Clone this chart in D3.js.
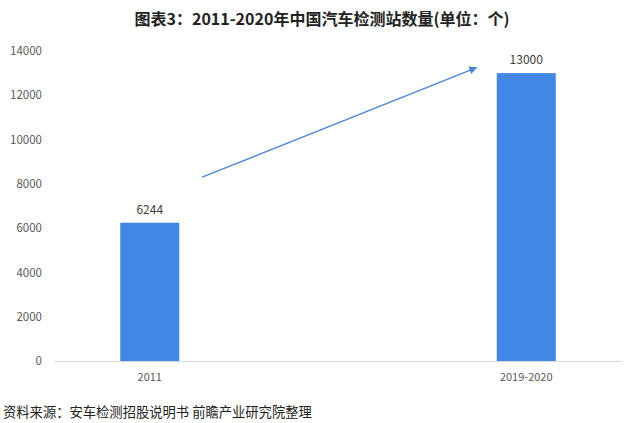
<!DOCTYPE html>
<html><head><meta charset="utf-8">
<script src="https://cdn.jsdelivr.net/npm/d3@7/dist/d3.min.js"></script>
<style>body{margin:0;background:#fff;}svg{display:block;}</style>
</head><body>
<svg id="c" width="642" height="423"></svg>
<script>
const categories = ["2011", "2019-2020"];
const values = [6244, 13000];
const yTicks = [0, 2000, 4000, 6000, 8000, 10000, 12000, 14000];
const titleText = "图表3：2011-2020年中国汽车检测站数量(单位：个)";
const sourceText = "资料来源：安车检测招股说明书 前瞻产业研究院整理";
// trend arrow in data space: [category fraction position, value]
const arrowFrom = [0.139, 8300];
const arrowTo = [0.868, 13250];

(function () {
const svg = d3.select("#c");
const W = 642, H = 423;
const mLeft = 54, mRight = 622, mTop = 51, mBottom = 361;
const font = "'Noto Sans CJK SC','Noto Sans',sans-serif";

svg.append("rect").attr("width", W).attr("height", H).attr("fill", "#fff");

const x = d3.scaleBand().domain(categories).range([mLeft, mRight])
  .paddingInner(0.8433).paddingOuter(0.176);
const y = d3.scaleLinear().domain([0, 14000]).range([mBottom, mTop]);

// title
svg.append("text").attr("x", 322).attr("y", 25).attr("text-anchor", "middle")
  .attr("font-family", font).attr("font-weight", "bold").attr("font-size", 16)
  .attr("fill", "#222").text(titleText);

// y axis
const yAxis = svg.append("g").attr("transform", `translate(${mLeft},0)`)
  .call(d3.axisLeft(y).tickValues(yTicks).tickSize(0).tickPadding(12).tickFormat(d3.format("d")));
yAxis.select(".domain").remove();
yAxis.selectAll("text").attr("font-family", font).attr("font-size", 11.5).attr("fill", "#595959");

// x axis
const xAxis = svg.append("g").attr("transform", `translate(0,${mBottom})`)
  .call(d3.axisBottom(x).tickSize(0).tickPadding(12));
xAxis.select(".domain").attr("stroke", "#d9d9d9").attr("d", `M${mLeft},0.5H${mRight}`);
xAxis.selectAll("text").attr("font-family", font).attr("font-size", 11).attr("fill", "#595959");

// bars
svg.selectAll(".bar").data(values).enter().append("rect")
  .attr("x", (d, i) => x(categories[i]))
  .attr("y", d => y(d))
  .attr("width", x.bandwidth())
  .attr("height", d => y(0) - y(d))
  .attr("fill", "#4287e3");

svg.selectAll(".lbl").data(values).enter().append("text")
  .attr("x", (d, i) => x(categories[i]) + x.bandwidth() / 2)
  .attr("y", d => y(d) - 9)
  .attr("text-anchor", "middle")
  .attr("font-family", font).attr("font-size", 12).attr("fill", "#404040")
  .text(d => d);

// arrow
const c0 = x(categories[0]) + x.bandwidth() / 2, c1 = x(categories[1]) + x.bandwidth() / 2;
const px = f => c0 + (c1 - c0) * f;
svg.append("defs").append("marker").attr("id", "ah")
  .attr("viewBox", "0 0 10 10").attr("refX", 9).attr("refY", 5)
  .attr("markerWidth", 9).attr("markerHeight", 8).attr("markerUnits", "userSpaceOnUse")
  .attr("orient", "auto")
  .append("path").attr("d", "M0,0L10,5L0,10z").attr("fill", "#4a86d8");
const x1 = px(arrowFrom[0]), y1 = y(arrowFrom[1]), x2 = px(arrowTo[0]), y2 = y(arrowTo[1]);
svg.append("line").attr("x1", x1).attr("y1", y1).attr("x2", x2).attr("y2", y2)
  .attr("stroke", "#4a86d8").attr("stroke-width", 1.3).attr("marker-end", "url(#ah)");

// source
svg.append("text").attr("x", 3).attr("y", 417)
  .attr("font-family", font).attr("font-size", 13.3).attr("fill", "#222")
  .text(sourceText);
})();
</script>
</body></html>
